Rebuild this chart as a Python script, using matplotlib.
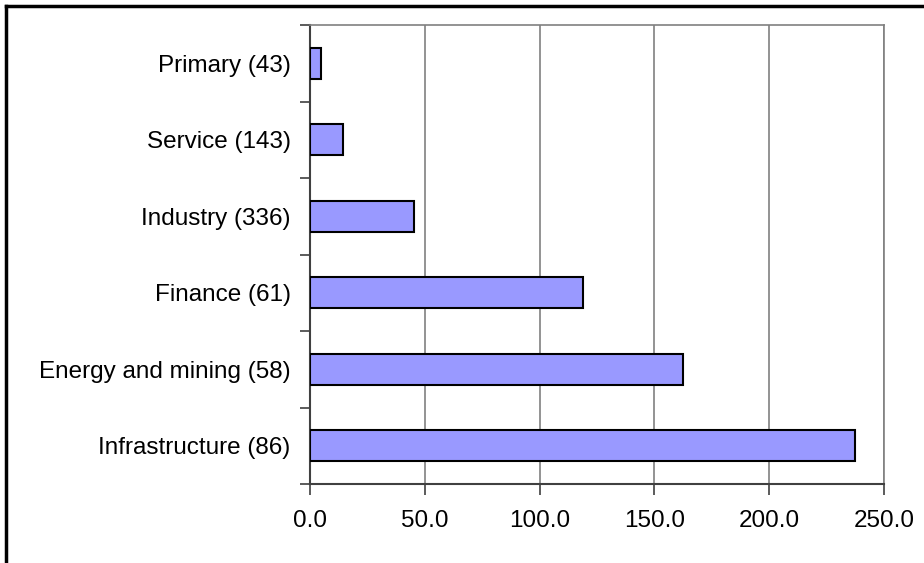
#!/usr/bin/env python3
"""
Horizontal bar chart by sector
"""

import matplotlib
matplotlib.use("Agg")
import matplotlib.pyplot as plt
from matplotlib.lines import Line2D
from matplotlib.ticker import FixedLocator, FormatStrFormatter

plt.rcParams['font.family'] = ['Liberation Sans', 'DejaVu Sans']

# data, bottom to top
categories = ['Infrastructure (86)', 'Energy and mining (58)', 'Finance (61)',
              'Industry (336)', 'Service (143)', 'Primary (43)']
values = [237.2, 162.3, 118.8, 45.4, 14.2, 5.0]
x_ticks = [0, 50, 100, 150, 200, 250]

fig = plt.figure(figsize=(9.24, 5.63), dpi=100)
ax = fig.add_axes([310 / 924, 1 - 484 / 563, 574 / 924, 459 / 563])

pos = list(range(len(categories)))
ax.barh(pos, values, height=0.4, color='#9999FF', edgecolor='black',
        linewidth=1.5, zorder=3)

ax.set_xlim(0, 250)
ax.set_ylim(-0.5, len(categories) - 0.5)

ax.set_xticks(x_ticks)
ax.xaxis.set_major_formatter(FormatStrFormatter('%.1f'))
ax.grid(axis='x', color='#808080', linewidth=1.2, zorder=0)

# category labels centered, ticks at category boundaries
ax.set_yticks(pos)
ax.set_yticklabels(categories)
ax.yaxis.set_minor_locator(FixedLocator([p - 0.5 for p in pos] + [len(pos) - 0.5]))
ax.tick_params(axis='y', which='major', length=0, pad=14, labelsize=17.5)
ax.tick_params(axis='y', which='minor', length=7, width=1.2, color='#404040')
ax.tick_params(axis='x', length=8, width=1.2, color='#404040', pad=11, labelsize=17.5)

for side in ['left', 'bottom']:
    ax.spines[side].set_color('#404040')
    ax.spines[side].set_linewidth(1.5)
for side in ['top', 'right']:
    ax.spines[side].set_color('#808080')
    ax.spines[side].set_linewidth(1.2)

# outer chart border (top and left only visible)
fig.add_artist(Line2D([6 / 924, 1.0], [1 - 6 / 563, 1 - 6 / 563], color='black',
                      linewidth=2.5, transform=fig.transFigure))
fig.add_artist(Line2D([6 / 924, 6 / 924], [0.0, 1 - 6 / 563], color='black',
                      linewidth=2.5, transform=fig.transFigure))

fig.savefig('out.png', dpi=100)
